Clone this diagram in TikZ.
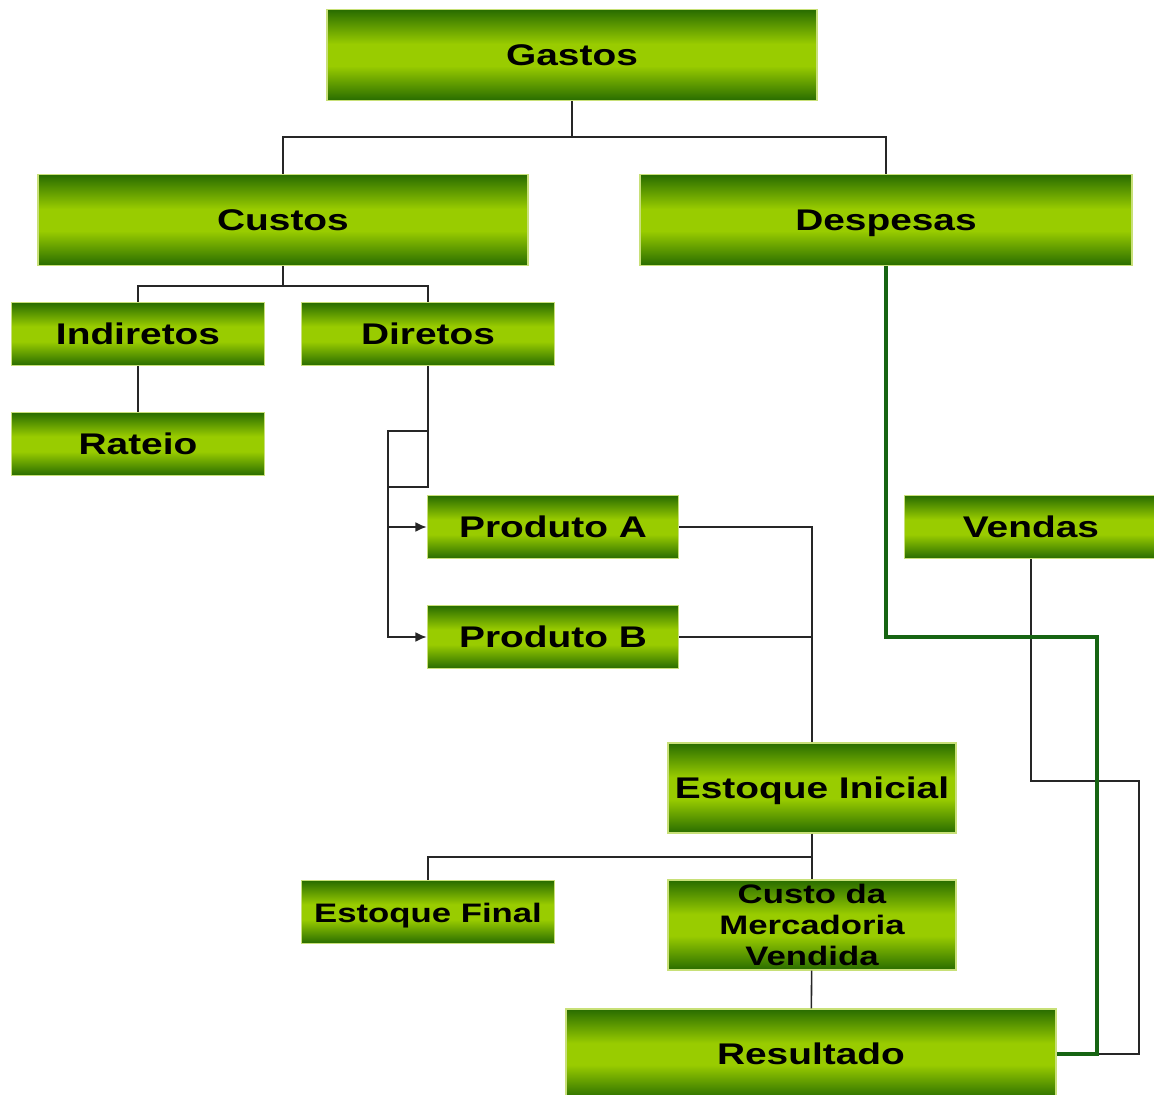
\documentclass[tikz,border=0pt]{standalone}
\usepackage{fontspec}
\newfontfamily\boxfont[FakeStretch=1.3]{Liberation Sans}
\usepackage{tikz}
\usetikzlibrary{arrows.meta}

\definecolor{boxdark}{RGB}{40,108,0}
\definecolor{boxlight}{RGB}{153,204,0}
\definecolor{boxrim}{RGB}{200,224,120}
\definecolor{pathgreen}{RGB}{22,100,18}

\pgfdeclareverticalshading{boxshade}{100bp}{color(0bp)=(boxdark); color(25bp)=(boxdark);
    color(44bp)=(boxlight); color(56bp)=(boxlight); color(75bp)=(boxdark); color(100bp)=(boxdark)}

\begin{document}
\begin{tikzpicture}[x=0.01cm, y=-0.01cm,
    base/.style={draw=boxrim, line width=0.4pt, shade, shading=boxshade,
        align=center, inner sep=1pt, font=\boxfont\bfseries\fontsize{8.5}{9}\selectfont},
    oneline/.style={text height=7.6pt, text depth=1.6pt},
    widebox/.style={base, oneline, minimum width=4.9cm, minimum height=0.91cm},
    midbox/.style={base, minimum width=2.88cm, minimum height=0.90cm},
    smallbox/.style={base, oneline, minimum width=2.53cm, minimum height=0.63cm},
    smalltext/.style={font=\boxfont\bfseries\fontsize{7.6}{8.9}\selectfont},
    line/.style={draw=black!85, line width=0.45pt},
    arrow/.style={line, -{Latex[length=3.2pt,width=2.8pt]}},
    greenline/.style={draw=pathgreen, line width=1.2pt}
]
    \useasboundingbox (0,0) rectangle (1154,1095);

    % --- Nodes ---
    % Top levels
    \node[widebox] (gastos) at (572,55) {Gastos};
    \node[widebox] (custos) at (283,220) {Custos};
    \node[widebox, minimum width=4.92cm] (despesas) at (886,220) {Despesas};

    % Custos branch
    \node[smallbox] (indiretos) at (138,334) {Indiretos};
    \node[smallbox] (diretos) at (428,334) {Diretos};
    \node[smallbox] (rateio) at (138,444) {Rateio};
    \node[smallbox, minimum width=2.51cm] (prodA) at (553,527) {Produto A};
    \node[smallbox, minimum width=2.51cm] (prodB) at (553,637) {Produto B};

    % Despesas branch
    \node[smallbox] (vendas) at (1031,527) {Vendas};

    % Stock and result
    \node[midbox, oneline] (estIni) at (812,788) {Estoque Inicial};
    \node[smallbox, smalltext] (estFin) at (428,912) {Estoque Final};
    \node[midbox, smalltext] (cmv) at (812,925) {Custo da\\Mercadoria\\Vendida};
    \node[widebox, minimum height=0.90cm] (resultado) at (811,1054) {Resultado};

    % --- Bends ---
    \coordinate (topJoin) at (572,137);
    \coordinate (custJoin) at (283,286);
    \coordinate (bendTop) at (388,431);
    \coordinate (bendLow) at (388,487);
    \coordinate (stockJoin) at (812,857);
    \coordinate (greenTurn) at (1097,637);
    \coordinate (salesTurn) at (1139,781);

    % --- Edges ---
    \draw[line] (gastos.south) -- (topJoin);
    \draw[line] (custos.north) |- (topJoin) -| (despesas.north);

    \draw[line] (custos.south) -- (custJoin);
    \draw[line] (indiretos.north) |- (custJoin) -| (diretos.north);
    \draw[line] (indiretos) -- (rateio);

    \draw[line] (diretos.south) |- (bendLow);
    \draw[arrow] (diretos.south |- bendTop) -- (bendTop) |- (prodB.west);
    \draw[arrow] (bendTop |- prodA.west) -- (prodA.west);

    \draw[line] (prodA.east) -| (estIni.north);
    \draw[line] (prodB.east) -- (prodB.east -| estIni.north);

    \draw[line] (estIni) -- (cmv);
    \draw[line] (stockJoin) -| (estFin.north);
    \draw[line] (cmv) -- (resultado);

    \draw[line] (vendas.south) |- (salesTurn) |- (resultado.east);
    \draw[greenline] (despesas.south) |- (greenTurn) |- (resultado.east);

\end{tikzpicture}
\end{document}
